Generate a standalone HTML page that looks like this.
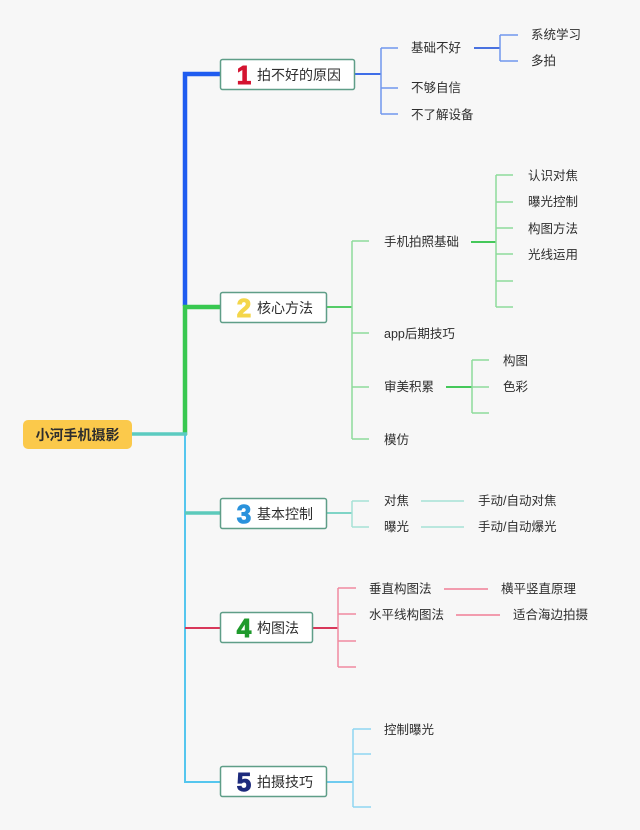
<!DOCTYPE html>
<html>
<head>
<meta charset="utf-8">
<style>
html,body{margin:0;padding:0;background:#f7f7f7;}
svg{display:block;}
text{font-family:"Liberation Sans","Noto Sans CJK SC",sans-serif;fill:#2e2e2e;}
.t{font-size:12.5px;}
.n{font-size:14px;}
.d{font-size:26px;font-weight:bold;font-family:"Liberation Sans",sans-serif;stroke-width:1;}
</style>
</head>
<body>
<svg width="640" height="830" viewBox="0 0 640 830" xmlns="http://www.w3.org/2000/svg">
<rect width="640" height="830" fill="#f7f7f7"/>
<g fill="none" stroke-linecap="butt" stroke-linejoin="miter">
  <path d="M185,306 V74 H220" stroke="#1f5cf0" stroke-width="4.5"/>
  <path d="M220,307 H185 V435" stroke="#38c850" stroke-width="4.5"/>
  <path d="M185,434 V782 H220" stroke="#55c6ee" stroke-width="2"/>
  <path d="M131,434 H187" stroke="#5ccbc0" stroke-width="3.5"/>
  <path d="M185,513 H220" stroke="#5ccabb" stroke-width="3.5"/>
  <path d="M185,628 H220" stroke="#d8385a" stroke-width="2"/>

  <path d="M354,74 H381" stroke="#3f6ee8" stroke-width="2"/>
  <path d="M381,48 V114 M381,48 H398 M381,88 H398 M381,114 H398" stroke="#7197ee" stroke-width="1.5"/>
  <path d="M474,48 H500" stroke="#4a72e0" stroke-width="2"/>
  <path d="M500,35 V61 M500,35 H518 M500,61 H518" stroke="#7197ee" stroke-width="1.5"/>

  <path d="M327,307 H352" stroke="#55cc68" stroke-width="2"/>
  <path d="M352,241 V439 M352,241 H369 M352,333 H369 M352,387 H369 M352,439 H369" stroke="#8edb9b" stroke-width="1.5"/>
  <path d="M471,242 H496" stroke="#45c85a" stroke-width="2"/>
  <path d="M496,175 V307 M496,175 H513 M496,202 H513 M496,228 H513 M496,254 H513 M496,281 H513 M496,307 H513" stroke="#8edb9b" stroke-width="1.5"/>
  <path d="M446,387 H472" stroke="#45c85a" stroke-width="2"/>
  <path d="M472,360 V413 M472,360 H489 M472,387 H489 M472,413 H489" stroke="#8edb9b" stroke-width="1.5"/>

  <path d="M327,513 H352" stroke="#7fd4c6" stroke-width="2"/>
  <path d="M352,501 V527 M352,501 H369 M352,527 H369" stroke="#a6e2d6" stroke-width="1.5"/>
  <path d="M421,501 H464 M421,527 H464" stroke="#a6e2d6" stroke-width="1.5"/>

  <path d="M313,628 H338" stroke="#d8385a" stroke-width="2"/>
  <path d="M338,588 V667 M338,588 H356 M338,614 H356 M338,641 H356 M338,667 H356" stroke="#f08aa0" stroke-width="1.5"/>
  <path d="M444,589 H488 M456,615 H500" stroke="#f07e96" stroke-width="1.5"/>

  <path d="M327,782 H353" stroke="#6fcbef" stroke-width="2"/>
  <path d="M353,729 V807 M353,729 H371 M353,754 H371 M353,807 H371" stroke="#8fd6f2" stroke-width="1.5"/>
</g>

<rect x="23" y="420" width="109" height="29" rx="5" fill="#fbc94b"/>
<text x="77.5" y="435" class="n" font-weight="bold" text-anchor="middle" dominant-baseline="central" fill="#222">小河手机摄影</text>

<g fill="#ffffff" stroke="#5f9e88" stroke-width="1.5">
  <rect x="220.5" y="59.5" width="134" height="30" rx="2"/>
  <rect x="220.5" y="292.5" width="106" height="30" rx="2"/>
  <rect x="220.5" y="498.5" width="106" height="30" rx="2"/>
  <rect x="220.5" y="612.5" width="92" height="30" rx="2"/>
  <rect x="220.5" y="766.5" width="106" height="30" rx="2"/>
</g>
<text x="244" y="75" class="d" text-anchor="middle" dominant-baseline="central" style="fill:#d41431;stroke:#d41431">1</text>
<text x="257" y="75" class="n" dominant-baseline="central">拍不好的原因</text>
<text x="244" y="308" class="d" text-anchor="middle" dominant-baseline="central" style="fill:#f4d64a;stroke:#f4d64a">2</text>
<text x="257" y="308" class="n" dominant-baseline="central">核心方法</text>
<text x="244" y="514" class="d" text-anchor="middle" dominant-baseline="central" style="fill:#2a92dc;stroke:#2a92dc">3</text>
<text x="257" y="514" class="n" dominant-baseline="central">基本控制</text>
<text x="244" y="628" class="d" text-anchor="middle" dominant-baseline="central" style="fill:#1f9a2c;stroke:#1f9a2c">4</text>
<text x="257" y="628" class="n" dominant-baseline="central">构图法</text>
<text x="244" y="782" class="d" text-anchor="middle" dominant-baseline="central" style="fill:#1d2a7c;stroke:#1d2a7c">5</text>
<text x="257" y="782" class="n" dominant-baseline="central">拍摄技巧</text>

<g>
<text class="t" x="411" y="48" dominant-baseline="central">基础不好</text>
<text class="t" x="411" y="88" dominant-baseline="central">不够自信</text>
<text class="t" x="411" y="115" dominant-baseline="central">不了解设备</text>
<text class="t" x="531" y="35" dominant-baseline="central">系统学习</text>
<text class="t" x="531" y="61" dominant-baseline="central">多拍</text>

<text class="t" x="384" y="242" dominant-baseline="central">手机拍照基础</text>
<text class="t" x="384" y="334" dominant-baseline="central">app后期技巧</text>
<text class="t" x="384" y="387" dominant-baseline="central">审美积累</text>
<text class="t" x="384" y="440" dominant-baseline="central">模仿</text>
<text class="t" x="528" y="176" dominant-baseline="central">认识对焦</text>
<text class="t" x="528" y="202" dominant-baseline="central">曝光控制</text>
<text class="t" x="528" y="229" dominant-baseline="central">构图方法</text>
<text class="t" x="528" y="255" dominant-baseline="central">光线运用</text>
<text class="t" x="503" y="361" dominant-baseline="central">构图</text>
<text class="t" x="503" y="387" dominant-baseline="central">色彩</text>

<text class="t" x="384" y="501" dominant-baseline="central">对焦</text>
<text class="t" x="384" y="527" dominant-baseline="central">曝光</text>
<text class="t" x="478" y="501" dominant-baseline="central">手动/自动对焦</text>
<text class="t" x="478" y="527" dominant-baseline="central">手动/自动爆光</text>

<text class="t" x="369" y="589" dominant-baseline="central">垂直构图法</text>
<text class="t" x="369" y="615" dominant-baseline="central">水平线构图法</text>
<text class="t" x="501" y="589" dominant-baseline="central">横平竖直原理</text>
<text class="t" x="513" y="615" dominant-baseline="central">适合海边拍摄</text>

<text class="t" x="384" y="730" dominant-baseline="central">控制曝光</text>
</g>
</svg>
</body>
</html>
